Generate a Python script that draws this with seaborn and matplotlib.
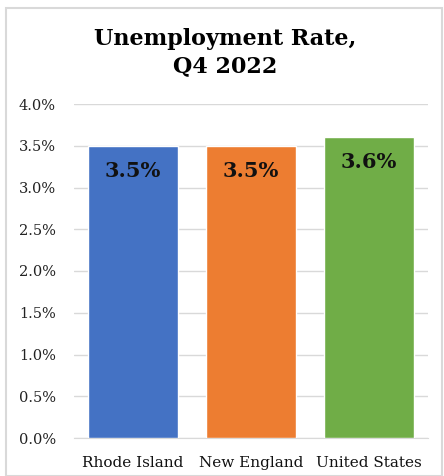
import matplotlib
matplotlib.use('Agg')
import matplotlib.pyplot as plt
import seaborn as sns
import pandas as pd
from matplotlib.patches import Rectangle

regions = ['Rhode Island', 'New England', 'United States']
rates = [3.5, 3.5, 3.6]
colors = ['#4472C4', '#ED7D31', '#70AD47']
yticks = [0.0, 0.5, 1.0, 1.5, 2.0, 2.5, 3.0, 3.5, 4.0]

df = pd.DataFrame({'region': regions, 'rate': rates})

sns.set_style('white')
plt.rcParams['font.family'] = ['DejaVu Serif']

fig = plt.figure(figsize=(4.44, 4.76), dpi=100)
ax = fig.add_axes([74 / 444, (476 - 438) / 476, (428 - 74) / 444, (438 - 104) / 476])

sns.barplot(data=df, x='region', y='rate', hue='region', palette=colors,
            width=0.76, legend=False, ax=ax, zorder=3, saturation=1)

ax.set_ylim(0, 4.0)
ax.set_yticks(yticks)
ax.set_yticklabels([f'{v:.1f}%' for v in yticks], fontsize=10.5, color='#222222')
ax.yaxis.grid(True, color='#D9D9D9', linewidth=1, zorder=0)
ax.tick_params(axis='x', labelsize=11, labelcolor='#111111', length=0, pad=13)
ax.tick_params(axis='y', length=0, pad=13)
ax.set_xlabel('')
ax.set_ylabel('')
for s in ['top', 'right', 'left']:
    ax.spines[s].set_visible(False)
ax.spines['bottom'].set_color('#D9D9D9')

for i, v in enumerate(rates):
    ax.text(i, v - 0.3, f'{v:.1f}%', ha='center', va='center',
            fontsize=15, fontweight='bold', color='#111111')

fig.text(0.507, 0.889, 'Unemployment Rate,\nQ4 2022', ha='center', va='center',
         fontsize=16, fontweight='bold', linespacing=1.3, color='black')

fig.patches.append(Rectangle((6 / 444, 0), 436 / 444, (476 - 8) / 476,
                             transform=fig.transFigure, fill=False,
                             edgecolor='#D9D9D9', linewidth=1.5))

fig.savefig('out.png', dpi=100)
